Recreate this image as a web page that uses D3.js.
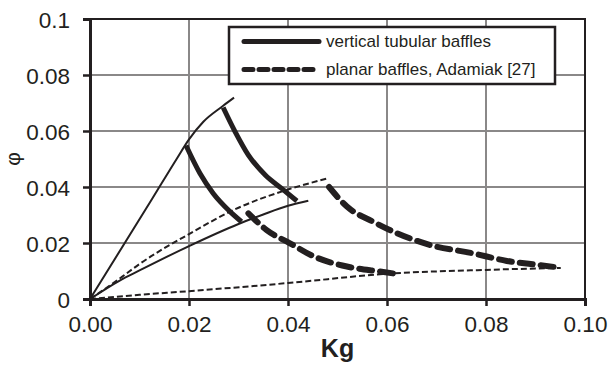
<!DOCTYPE html>
<html>
<head>
<meta charset="utf-8">
<script src="https://cdn.jsdelivr.net/npm/d3@7"></script>
<style>
  body { margin: 0; background: #fff; }
  text { font-family: "Liberation Sans", Arial, sans-serif; fill: #231f20; }
</style>
</head>
<body>
<div id="chart"></div>
<script>
// Kg ticks and phi ticks
const xTicks = [0, 0.02, 0.04, 0.06, 0.08, 0.10];
const yTicks = [0, 0.02, 0.04, 0.06, 0.08, 0.1];

// vertical tubular baffles
const tubeLineSteep = [[0, 0], [0.0125, 0.0356], [0.0175, 0.0500], [0.0200, 0.0570], [0.0229, 0.0633], [0.0269, 0.0690], [0.0291, 0.0719]];
const tubeLineFlat = [[0, 0], [0.006, 0.0066], [0.01, 0.0102], [0.02, 0.0189], [0.03, 0.0268], [0.035, 0.0302], [0.04, 0.0333], [0.0441, 0.0351]];
const tubeCurveA = [[0.0194, 0.0548], [0.0222, 0.0449], [0.0249, 0.0377], [0.0283, 0.0312], [0.0306, 0.0276]];
const tubeCurveB = [[0.0269, 0.0684], [0.0293, 0.0598], [0.032, 0.0514], [0.0354, 0.0443], [0.0387, 0.0395], [0.0418, 0.0350]];

// planar baffles, Adamiak [27]
const planarLineSteep = [[0, 0], [0.006, 0.0073], [0.01, 0.0125], [0.02, 0.0232], [0.03, 0.0326], [0.04, 0.0391], [0.0481, 0.0431]];
const planarLineFlat = [[0, 0], [0.01, 0.0015], [0.02, 0.0028], [0.04, 0.0057], [0.06, 0.0090], [0.08, 0.0104], [0.0951, 0.0111]];
const planarCurveA = [[0.032, 0.0306], [0.0357, 0.0246], [0.0404, 0.0199], [0.0451, 0.0153], [0.0519, 0.0116], [0.0586, 0.0098], [0.0626, 0.0088]];
const planarCurveB = [[0.0483, 0.0400], [0.0519, 0.0330], [0.0572, 0.0276], [0.062, 0.0235], [0.0687, 0.0193], [0.0774, 0.0163], [0.0842, 0.0136], [0.0909, 0.0121], [0.094, 0.0114]];

const legendLabels = ["vertical tubular baffles", "planar baffles, Adamiak [27]"];

const W = 609, H = 369;
const margin = {top: 19, right: 24, bottom: 70, left: 90};
const ink = "#231f20";

const svg = d3.select("#chart").append("svg")
    .attr("width", W)
    .attr("height", H);

const x = d3.scaleLinear().domain([0, 0.1]).range([margin.left, W - margin.right]);
const y = d3.scaleLinear().domain([0, 0.1]).range([H - margin.bottom, margin.top]);

/* grid */
const grid = svg.append("g").attr("class", "grid");
grid.selectAll(".gx").data(xTicks.slice(1, -1)).enter().append("line")
    .attr("x1", d => x(d)).attr("x2", d => x(d))
    .attr("y1", y(0)).attr("y2", y(0.1))
    .attr("stroke", "#8a8888").attr("stroke-width", 2);
grid.selectAll(".gy").data(yTicks.slice(1, -1)).enter().append("line")
    .attr("x1", x(0)).attr("x2", x(0.1))
    .attr("y1", d => y(d)).attr("y2", d => y(d))
    .attr("stroke", "#8a8888").attr("stroke-width", 2);

/* frame: top and right */
svg.append("path")
    .attr("d", `M${x(0)},${y(0.1)}H${x(0.1)}V${y(0)}`)
    .attr("fill", "none").attr("stroke", ink).attr("stroke-width", 2);

/* axes */
const xAxis = svg.append("g")
    .attr("transform", `translate(0,${y(0)})`)
    .call(d3.axisBottom(x).tickValues(xTicks).tickFormat(d3.format(".2f")).tickSize(7).tickPadding(10));
const yAxis = svg.append("g")
    .attr("transform", `translate(${x(0)},0)`)
    .call(d3.axisLeft(y).tickValues(yTicks).tickFormat(d => d === 0 ? "0" : d === 0.1 ? "0.1" : d3.format(".2f")(d)).tickSize(7).tickPadding(13));

[xAxis, yAxis].forEach(a => {
    a.select(".domain").attr("stroke", ink).attr("stroke-width", 3);
    a.selectAll(".tick line").attr("stroke", ink).attr("stroke-width", 2.5);
    a.selectAll(".tick text")
        .style("font-family", '"Liberation Sans", Arial, sans-serif')
        .style("font-size", "22.5px")
        .attr("fill", ink);
});
yAxis.selectAll(".tick text").attr("dy", "0.36em");

/* axis titles */
svg.append("text")
    .attr("x", (x(0) + x(0.1)) / 2)
    .attr("y", 357)
    .attr("text-anchor", "middle")
    .style("font-size", "25px")
    .style("font-weight", "bold")
    .text("Kg");

svg.append("text")
    .attr("transform", `translate(20,${(y(0) + y(0.1)) / 2}) rotate(-90)`)
    .attr("text-anchor", "middle")
    .style("font-size", "21px")
    .text("φ");

/* series */
const line = d3.line()
    .x(d => x(d[0]))
    .y(d => y(d[1]))
    .curve(d3.curveMonotoneX);

const series = [
    {data: tubeLineSteep, width: 2, dash: null},
    {data: tubeLineFlat, width: 2, dash: null},
    {data: planarLineSteep, width: 2, dash: "6,3"},
    {data: planarLineFlat, width: 2, dash: "6,3"},
    {data: tubeCurveA, width: 5, dash: null},
    {data: tubeCurveB, width: 5, dash: null},
    {data: planarCurveA, width: 6, dash: "13,8"},
    {data: planarCurveB, width: 6, dash: "13,8"}
];

svg.append("g").attr("class", "series")
    .selectAll("path").data(series).enter().append("path")
    .attr("d", d => line(d.data))
    .attr("fill", "none")
    .attr("stroke", ink)
    .attr("stroke-width", d => d.width)
    .attr("stroke-dasharray", d => d.dash)
    .attr("stroke-linecap", d => d.dash && d.width > 3 ? "round" : "butt");

/* legend */
const legend = svg.append("g").attr("class", "legend");
legend.append("rect")
    .attr("x", 229).attr("y", 27)
    .attr("width", 326).attr("height", 57)
    .attr("fill", "#fff").attr("stroke", ink).attr("stroke-width", 2.5);

const legendItems = [
    {label: legendLabels[0], dash: null, y: 41.5},
    {label: legendLabels[1], dash: "9,6", y: 69.5}
];
legendItems.forEach(d => {
    legend.append("line")
        .attr("x1", 244).attr("x2", 319)
        .attr("y1", d.y).attr("y2", d.y)
        .attr("stroke", ink).attr("stroke-width", 5)
        .attr("stroke-linecap", "round")
        .attr("stroke-dasharray", d.dash);
    legend.append("text")
        .attr("x", 326).attr("y", d.y)
        .attr("dy", "0.35em")
        .style("font-size", "17px")
        .text(d.label);
});
</script>
</body>
</html>
